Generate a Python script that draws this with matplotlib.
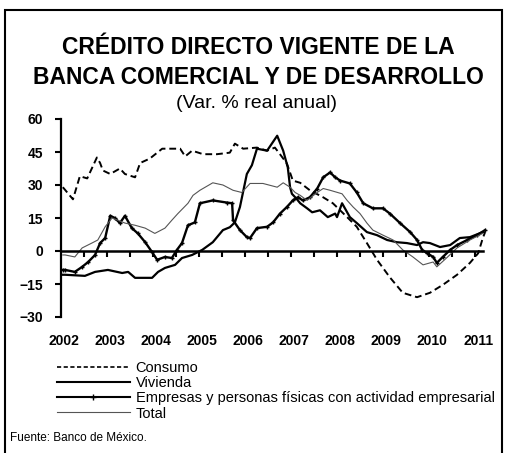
import numpy as np
import matplotlib
matplotlib.use("Agg")
import matplotlib.pyplot as plt
from matplotlib.lines import Line2D
from matplotlib.patches import Rectangle

plt.rcParams["font.family"] = ["Liberation Sans", "DejaVu Sans"]

# annual real growth, % (time in decimal years)
consumo_t = [2002.04, 2002.26, 2002.41, 2002.57, 2002.78, 2002.85, 2002.91, 2003.07, 2003.28, 2003.39,
             2003.61, 2003.72, 2003.93, 2004.20, 2004.59, 2004.70, 2004.85, 2005.09, 2005.39, 2005.67,
             2005.78, 2005.96, 2006.26, 2006.48, 2006.65, 2006.76, 2006.91, 2007.04, 2007.20, 2007.41,
             2007.70, 2007.91, 2008.22, 2008.43, 2008.65, 2008.87, 2009.15, 2009.43, 2009.74, 2010.02,
             2010.30, 2010.61, 2010.89, 2011.07, 2011.17, 2011.22]
consumo = [29, 23.5, 34, 33, 42.5, 40, 36.6, 35, 37.5, 35,
           33.5, 40, 42, 46.5, 46.5, 43, 45.6, 44, 44, 44.7,
           48.8, 46.5, 47, 45.6, 47, 44, 39.8, 32, 31, 27.6,
           24.4, 21.7, 15.4, 11, 3.6, -4, -12, -19, -21, -19,
           -15.4, -10.8, -5.4, -1, 5.9, 8.6]

vivienda_t = [2002.04, 2002.09, 2002.52, 2002.74, 2003.02, 2003.33, 2003.46, 2003.61, 2003.98, 2004.11,
              2004.26, 2004.48, 2004.63, 2004.85, 2005.07, 2005.30, 2005.52, 2005.67, 2005.78, 2005.89,
              2006.04, 2006.15, 2006.26, 2006.48, 2006.70, 2006.83, 2006.93, 2006.98, 2007.02, 2007.11,
              2007.20, 2007.35, 2007.46, 2007.63, 2007.80, 2007.96, 2008.00, 2008.11, 2008.28, 2008.43,
              2008.65, 2008.87, 2009.09, 2009.30, 2009.52, 2009.74, 2009.87, 2010.02, 2010.24, 2010.46,
              2010.67, 2010.89, 2011.17]
vivienda = [-10.8, -10.8, -11.3, -9.5, -8.6, -10, -9.5, -12.2, -12.2, -9.5,
            -7.7, -6.3, -3.2, -1.8, 0.5, 4, 9.5, 10.8, 13, 20,
            35, 39, 46.5, 45.6, 52.4, 45.6, 38, 29, 26, 24,
            21.7, 19.4, 17.6, 18.5, 15.4, 17, 15.4, 21.7, 15.4, 12.7,
            8.6, 7.2, 5, 4, 3.6, 2.7, 4, 3.6, 1.8, 2.7,
            5.9, 6.3, 8.6]

empresas_t = [2002.04, 2002.09, 2002.30, 2002.46, 2002.59, 2002.74, 2002.85, 2002.96, 2003.07, 2003.17,
              2003.28, 2003.39, 2003.54, 2003.67, 2003.83, 2003.98, 2004.09, 2004.26, 2004.41, 2004.52,
              2004.63, 2004.76, 2004.91, 2005.02, 2005.30, 2005.61, 2005.72, 2005.74, 2005.89, 2006.04,
              2006.11, 2006.26, 2006.48, 2006.61, 2006.76, 2006.91, 2007.04, 2007.15, 2007.26, 2007.41,
              2007.57, 2007.70, 2007.85, 2007.96, 2008.07, 2008.28, 2008.43, 2008.57, 2008.78, 2009.00,
              2009.15, 2009.37, 2009.59, 2009.74, 2009.85, 2009.96, 2010.09, 2010.17, 2010.30, 2010.46,
              2010.61, 2010.83, 2011.04, 2011.22]
empresas = [-8.6, -8.6, -9.5, -7.2, -5, -1.8, 3.6, 5.9, 16, 15,
            12.7, 16, 10.4, 8, 4, -0.5, -4, -2.7, -3.2, 0.5,
            3.6, 11.7, 13, 21.7, 23, 22, 21.7, 14, 9.5, 6.3,
            5.9, 10.4, 11, 13, 17, 20, 23, 24.4, 23, 24.4,
            28.4, 33.5, 35.7, 33.5, 32, 30.7, 26.6, 21.7, 19.4, 19.4,
            17, 12.7, 8.6, 5, 0.5, -1, -2.7, -5.4, -2.7, 0.5,
            2.7, 5, 7.2, 9.5]

total_t = [2002.04, 2002.09, 2002.30, 2002.46, 2002.67, 2002.80, 2002.96, 2003.11, 2003.39, 2003.61,
           2003.83, 2004.04, 2004.26, 2004.41, 2004.54, 2004.76, 2004.87, 2005.02, 2005.30, 2005.52,
           2005.74, 2005.93, 2006.11, 2006.39, 2006.70, 2006.83, 2006.98, 2007.09, 2007.20, 2007.35,
           2007.57, 2007.70, 2007.85, 2008.11, 2008.22, 2008.35, 2008.50, 2008.65, 2008.78, 2009.00,
           2009.22, 2009.43, 2009.65, 2009.87, 2010.09, 2010.17, 2010.39, 2010.61, 2010.89, 2011.17]
total = [-1.8, -1.8, -2.7, 1.4, 3.6, 5, 11, 15, 12.7, 11.7,
         10.4, 8, 10.4, 14, 17, 21.7, 25.3, 27.6, 31, 30,
         27.6, 26.6, 30.7, 30.7, 29, 31, 29, 26.6, 25.3, 23,
         26.6, 28.4, 27.6, 26, 23, 20, 17, 12.7, 9.5, 7.2,
         5, 0.5, -2.7, -6.3, -5, -7.2, -3, 1.4, 5, 8]

years = list(range(2002, 2012))
yticks = [60, 45, 30, 15, 0, -15, -30]

fig = plt.figure(figsize=(5.1, 4.53), dpi=100)
ax = fig.add_axes([61 / 510, 1 - 317 / 453, (486.5 - 61) / 510, (317 - 119) / 453])

ax.plot(consumo_t, consumo, color="black", lw=1.4, ls=(0, (3.5, 2)))
ax.plot(vivienda_t, vivienda, color="black", lw=1.6)
ax.plot(empresas_t, empresas, color="black", lw=1.7, marker="+", ms=3.5, mew=1)
ax.plot(total_t, total, color="#555555", lw=0.8)

ax.set_xlim(2002, 2011.25)
ax.set_ylim(-30, 60)
ax.set_yticks(yticks)
ax.tick_params(axis="y", direction="out", length=4, width=1.5, pad=9, labelsize=10)
for lab in ax.get_yticklabels():
    lab.set_fontweight("bold")

# horizontal axis drawn along zero, half-year ticks hanging below it
ax.spines["bottom"].set_position(("data", 0))
ax.spines["bottom"].set_bounds(2002, 2011.17)
ax.spines["bottom"].set_linewidth(1.8)
ax.spines["left"].set_linewidth(1.6)
ax.spines["top"].set_visible(False)
ax.spines["right"].set_visible(False)
ax.set_xticks(np.arange(2002.5, 2011.01, 0.5))
ax.tick_params(axis="x", direction="out", length=4, width=1.5, labelbottom=False)

for yr in years:
    ax.text(yr + 0.07, -0.12, str(yr), transform=ax.get_xaxis_transform(),
            ha="center", va="center", fontsize=10, fontweight="bold")

fig.text(0.506, 1 - 47 / 453, "CRÉDITO DIRECTO VIGENTE DE LA", ha="center", va="center",
         fontsize=16.5, fontweight="bold")
fig.text(0.506, 1 - 77 / 453, "BANCA COMERCIAL Y DE DESARROLLO", ha="center", va="center",
         fontsize=16.5, fontweight="bold")
fig.text(0.502, 1 - 103 / 453, "(Var. % real anual)", ha="center", va="center", fontsize=14)

handles = [
    Line2D([], [], color="black", lw=1.2, ls=(0, (2.5, 1.5))),
    Line2D([], [], color="black", lw=1.5),
    Line2D([], [], color="black", lw=1.5, marker="+", ms=4, markevery=[1]),
    Line2D([], [], color="#555555", lw=0.8),
]
labels = ["Consumo", "Vivienda", "Empresas y personas físicas con actividad empresarial", "Total"]
fig.legend(handles, labels, loc="upper left", bbox_to_anchor=(57 / 510, 1 - 361 / 453),
           frameon=False, fontsize=10.5, handlelength=5.0, handletextpad=0.4,
           labelspacing=0.08, borderaxespad=0, borderpad=0)

fig.text(10 / 510, 1 - 438 / 453, "Fuente: Banco de México.", ha="left", va="center", fontsize=8.5)

fig.patches.append(Rectangle((5 / 510, -0.05), 497 / 510, 1.05 - 10 / 453,
                             transform=fig.transFigure, fill=False, lw=1.5, ec="black"))

fig.savefig("out.png", dpi=100)
